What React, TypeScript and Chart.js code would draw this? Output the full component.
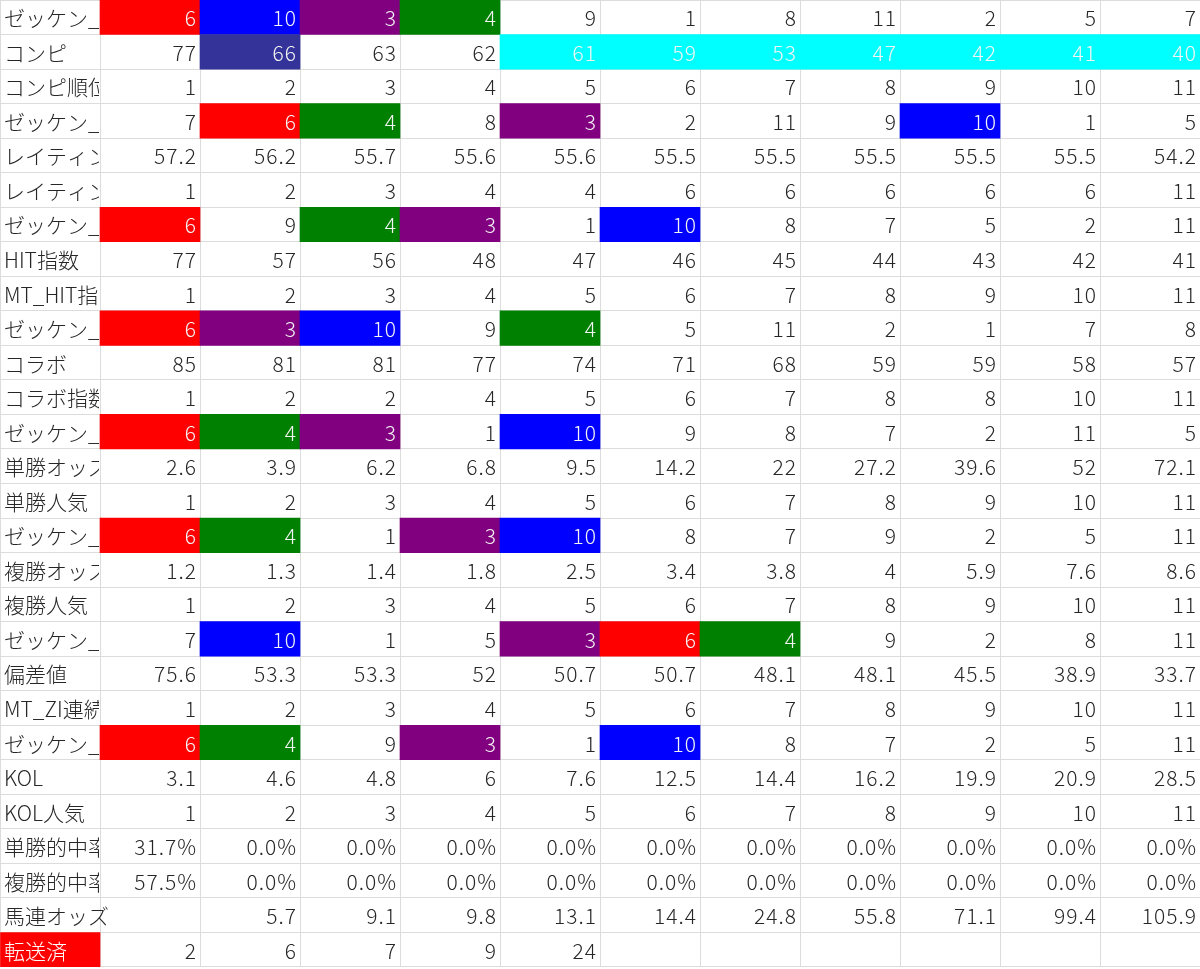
import React, { useEffect, useRef } from 'react';
import { Chart, registerables } from 'chart.js';

Chart.register(...registerables);

// row headers (first column, clipped like the sheet)
const rowLabels = [
  'ゼッケン_コンピ', 'コンピ', 'コンピ順位', 'ゼッケン_レイティング', 'レイティング', 'レイティング順位',
  'ゼッケン_HIT', 'HIT指数', 'MT_HIT指数順位', 'ゼッケン_コラボ', 'コラボ', 'コラボ指数順位',
  'ゼッケン_単勝', '単勝オッズ', '単勝人気', 'ゼッケン_複勝', '複勝オッズ', '複勝人気',
  'ゼッケン_偏差値', '偏差値', 'MT_ZI連続順位', 'ゼッケン_KOL', 'KOL', 'KOL人気',
  '単勝的中率', '複勝的中率', '馬連オッズ', '転送済',
];

const rankSeq = [1, 2, 3, 4, 5, 6, 7, 8, 9, 10, 11];

const zekkenCompi = [6, 10, 3, 4, 9, 1, 8, 11, 2, 5, 7];
const compi = [77, 66, 63, 62, 61, 59, 53, 47, 42, 41, 40];
const zekkenRating = [7, 6, 4, 8, 3, 2, 11, 9, 10, 1, 5];
const rating = [57.2, 56.2, 55.7, 55.6, 55.6, 55.5, 55.5, 55.5, 55.5, 55.5, 54.2];
const ratingRank = [1, 2, 3, 4, 4, 6, 6, 6, 6, 6, 11];
const zekkenHit = [6, 9, 4, 3, 1, 10, 8, 7, 5, 2, 11];
const hitIndex = [77, 57, 56, 48, 47, 46, 45, 44, 43, 42, 41];
const zekkenCollab = [6, 3, 10, 9, 4, 5, 11, 2, 1, 7, 8];
const collab = [85, 81, 81, 77, 74, 71, 68, 59, 59, 58, 57];
const collabRank = [1, 2, 2, 4, 5, 6, 7, 8, 8, 10, 11];
const zekkenWin = [6, 4, 3, 1, 10, 9, 8, 7, 2, 11, 5];
const winOdds = [2.6, 3.9, 6.2, 6.8, 9.5, 14.2, 22, 27.2, 39.6, 52, 72.1];
const zekkenPlace = [6, 4, 1, 3, 10, 8, 7, 9, 2, 5, 11];
const placeOdds = [1.2, 1.3, 1.4, 1.8, 2.5, 3.4, 3.8, 4, 5.9, 7.6, 8.6];
const zekkenDev = [7, 10, 1, 5, 3, 6, 4, 9, 2, 8, 11];
const deviation = [75.6, 53.3, 53.3, 52, 50.7, 50.7, 48.1, 48.1, 45.5, 38.9, 33.7];
const zekkenKol = [6, 4, 9, 3, 1, 10, 8, 7, 2, 5, 11];
const kol = [3.1, 4.6, 4.8, 6, 7.6, 12.5, 14.4, 16.2, 19.9, 20.9, 28.5];
const winHitRate = [31.7, 0, 0, 0, 0, 0, 0, 0, 0, 0, 0];
const placeHitRate = [57.5, 0, 0, 0, 0, 0, 0, 0, 0, 0, 0];
const umarenOdds = [null, 5.7, 9.1, 9.8, 13.1, 14.4, 24.8, 55.8, 71.1, 99.4, 105.9];
const transferred = [2, 6, 7, 9, 24, null, null, null, null, null, null];

const rows: (number | null)[][] = [
  zekkenCompi, compi, rankSeq, zekkenRating, rating, ratingRank,
  zekkenHit, hitIndex, rankSeq, zekkenCollab, collab, collabRank,
  zekkenWin, winOdds, rankSeq, zekkenPlace, placeOdds, rankSeq,
  zekkenDev, deviation, rankSeq, zekkenKol, kol, rankSeq,
  winHitRate, placeHitRate, umarenOdds, transferred,
];
const percentRows = [24, 25];

// horse number -> cell colour in the ゼッケン rows
const horseColors: Record<number, string> = { 6: '#ff0000', 10: '#0000ff', 3: '#800080', 4: '#008000' };
const compiFills = [null, '#333399', null, null, '#00ffff', '#00ffff', '#00ffff', '#00ffff', '#00ffff', '#00ffff', '#00ffff'];
const labelFills: Record<number, string> = { 27: '#ff0000' };

const FONT = '300 21px "Noto Sans CJK JP", "Noto Sans", sans-serif';

const cellFill = (r: number, c: number): string | null => {
  if (c === 0) return labelFills[r] || null;
  const v = rows[r][c - 1];
  if (rowLabels[r].startsWith('ゼッケン') && v != null) return horseColors[v] || null;
  if (r === 1) return compiFills[c - 1];
  return null;
};

const fmt = (r: number, v: number | null) => {
  if (v == null) return '';
  if (percentRows.includes(r)) return v.toFixed(1) + '%';
  return String(v);
};

const cellText = {
  id: 'cellText',
  afterDatasetsDraw(chart: any) {
    const { ctx, scales } = chart;
    const x = scales.x;
    const y = scales.y;
    ctx.save();
    ctx.font = FONT;
    ctx.textBaseline = 'middle';
    rowLabels.forEach((label, r) => {
      const top = y.getPixelForValue(r - 0.5);
      const bottom = y.getPixelForValue(r + 0.5);
      const mid = y.getPixelForValue(r) + 1;
      // header text may spill into empty neighbours
      let span = 1;
      while (span < 12 && rows[r][span - 1] == null) span++;
      ctx.save();
      ctx.beginPath();
      ctx.rect(x.getPixelForValue(0), top, x.getPixelForValue(span) - x.getPixelForValue(0) - 1, bottom - top);
      ctx.clip();
      ctx.textAlign = 'left';
      ctx.letterSpacing = '0px';
      ctx.fillStyle = cellFill(r, 0) ? '#ffffff' : '#262626';
      ctx.fillText(label, x.getPixelForValue(0) + 4, mid);
      ctx.restore();
      ctx.letterSpacing = '1px';
      rows[r].forEach((v, i) => {
        const c = i + 1;
        const txt = fmt(r, v);
        if (!txt) return;
        ctx.textAlign = 'right';
        ctx.fillStyle = cellFill(r, c) ? '#f4f4f4' : '#262626';
        ctx.fillText(txt, x.getPixelForValue(c + 1) - 3, mid);
      });
    });
    ctx.restore();
  },
};

export default function App() {
  const chartRef = useRef<HTMLCanvasElement>(null);
  const chartInstance = useRef<Chart | null>(null);

  useEffect(() => {
    if (!chartRef.current) return;
    if (chartInstance.current) chartInstance.current.destroy();

    const keys = rowLabels.map((_, i) => String(i));
    const points: { x: number[]; y: string }[] = [];
    const colors: string[] = [];
    rowLabels.forEach((_, r) => {
      for (let c = 0; c < 12; c++) {
        const fill = cellFill(r, c);
        if (fill) {
          points.push({ x: [c, c + 1], y: keys[r] });
          colors.push(fill);
        }
      }
    });

    chartInstance.current = new Chart(chartRef.current, {
      type: 'bar',
      data: {
        labels: keys,
        datasets: [
          {
            data: points as any,
            backgroundColor: colors,
            borderWidth: 0,
            barPercentage: 1,
            categoryPercentage: 1,
          },
        ],
      },
      options: {
        indexAxis: 'y',
        animation: false,
        responsive: true,
        maintainAspectRatio: false,
        layout: { padding: { bottom: 2 } },
        plugins: { legend: { display: false }, tooltip: { enabled: false } },
        scales: {
          x: {
            type: 'linear',
            min: 0,
            max: 12,
            ticks: { display: false, stepSize: 1 },
            grid: { color: '#dcdcdc', drawTicks: false },
            border: { display: false },
          },
          y: {
            type: 'category',
            offset: true,
            ticks: { display: false },
            grid: { color: '#dcdcdc', drawTicks: false, offset: true },
            border: { display: false },
          },
        },
      },
      plugins: [cellText],
    });

    return () => {
      if (chartInstance.current) {
        chartInstance.current.destroy();
        chartInstance.current = null;
      }
    };
  }, []);

  return (
    <div style={{ position: 'absolute', left: 0, top: 0, width: 1200, height: 969, background: '#fff' }}>
      <canvas ref={chartRef} />
    </div>
  );
}
